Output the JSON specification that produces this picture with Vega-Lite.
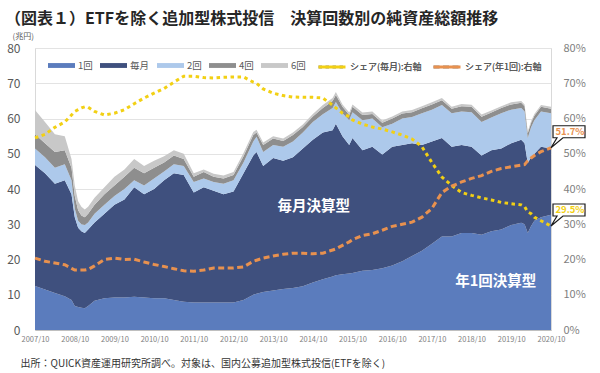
{
  "$schema": "https://vega.github.io/schema/vega-lite/v6.json",
  "width": 516,
  "height": 282,
  "autosize": "none",
  "padding": {"left": 35, "top": 48, "right": 49, "bottom": 43},
  "background": "white",
  "title": {
    "text": "（図表１）ETFを除く追加型株式投信　決算回数別の純資産総額推移",
    "anchor": "start",
    "frame": "group",
    "dx": -30,
    "offset": 5,
    "fontSize": 16,
    "fontWeight": "bold",
    "color": "#262626",
    "font": "Noto Sans CJK JP"
  },
  "config": {
    "font": "Noto Sans CJK JP",
    "view": {"stroke": "#d9d9d9"},
    "axisX": {"labelOverlap": false, "labelSeparation": 0}
  },
  "datasets": {
    "funds": [
      {"date": "2007/10/01", "1回": 12.5, "毎月": 34.3, "2回": 4.7, "4回": 4.0, "6回": 6.9, "シェア(毎月):右軸": 54.5, "シェア(年1回):右軸": 20.4},
      {"date": "2008/01/01", "1回": 11.5, "毎月": 33.0, "2回": 4.5, "4回": 4.0, "6回": 6.0, "シェア(毎月):右軸": 55.5, "シェア(年1回):右軸": 19.5},
      {"date": "2008/04/01", "1回": 10.5, "毎月": 31.0, "2回": 4.5, "4回": 4.5, "6回": 5.0, "シェア(毎月):右軸": 57.5, "シェア(年1回):右軸": 19.0},
      {"date": "2008/07/01", "1回": 9.6, "毎月": 32.9, "2回": 4.5, "4回": 4.0, "6回": 4.0, "シェア(毎月):右軸": 59.0, "シェア(年1回):右軸": 18.5},
      {"date": "2008/09/01", "1回": 8.5, "毎月": 30.0, "2回": 4.0, "4回": 3.5, "6回": 2.5, "シェア(毎月):右軸": 61.0, "シェア(年1回):右軸": 17.5},
      {"date": "2008/10/01", "1回": 6.8, "毎月": 25.2, "2回": 2.5, "4回": 3.5, "6回": 3.0, "シェア(毎月):右軸": 62.0, "シェア(年1回):右軸": 17.0},
      {"date": "2008/11/01", "1回": 6.5, "毎月": 22.5, "2回": 2.0, "4回": 3.0, "6回": 2.5, "シェア(毎月):右軸": 62.5, "シェア(年1回):右軸": 17.0},
      {"date": "2008/12/01", "1回": 6.3, "毎月": 21.7, "2回": 2.0, "4回": 2.5, "6回": 2.5, "シェア(毎月):右軸": 63.0, "シェア(年1回):右軸": 17.0},
      {"date": "2009/01/01", "1回": 6.2, "毎月": 21.3, "2回": 2.3, "4回": 2.2, "6回": 2.2, "シェア(毎月):右軸": 63.3, "シェア(年1回):右軸": 17.0},
      {"date": "2009/02/01", "1回": 6.8, "毎月": 21.7, "2回": 2.0, "4回": 2.5, "6回": 2.0, "シェア(毎月):右軸": 63.2, "シェア(年1回):右軸": 17.2},
      {"date": "2009/04/01", "1回": 8.3, "毎月": 22.2, "2回": 2.5, "4回": 2.5, "6回": 2.0, "シェア(毎月):右軸": 62.0, "シェア(年1回):右軸": 18.2},
      {"date": "2009/07/01", "1回": 9.0, "毎月": 24.0, "2回": 2.5, "4回": 3.0, "6回": 2.0, "シェア(毎月):右軸": 61.0, "シェア(年1回):右軸": 20.0},
      {"date": "2009/10/01", "1回": 9.2, "毎月": 26.3, "2回": 2.5, "4回": 3.0, "6回": 2.5, "シェア(毎月):右軸": 61.5, "シェア(年1回):右軸": 20.4},
      {"date": "2010/01/01", "1回": 9.2, "毎月": 27.8, "2回": 3.0, "4回": 3.5, "6回": 2.0, "シェア(毎月):右軸": 62.5, "シェア(年1回):右軸": 20.0},
      {"date": "2010/04/01", "1回": 9.4, "毎月": 31.1, "2回": 2.0, "4回": 3.5, "6回": 2.5, "シェア(毎月):右軸": 64.2, "シェア(年1回):右軸": 20.1},
      {"date": "2010/07/01", "1回": 9.2, "毎月": 29.3, "2回": 2.5, "4回": 3.5, "6回": 2.0, "シェア(毎月):右軸": 65.8, "シェア(年1回):右軸": 19.3},
      {"date": "2010/10/01", "1回": 9.0, "毎月": 31.0, "2回": 3.0, "4回": 3.0, "6回": 2.0, "シェア(毎月):右軸": 67.2, "シェア(年1回):右軸": 18.6},
      {"date": "2011/01/01", "1回": 9.0, "毎月": 33.5, "2回": 2.5, "4回": 2.5, "6回": 1.8, "シェア(毎月):右軸": 68.5, "シェア(年1回):右軸": 18.0},
      {"date": "2011/04/01", "1回": 8.5, "毎月": 36.0, "2回": 2.5, "4回": 2.5, "6回": 1.5, "シェア(毎月):右軸": 70.3, "シェア(年1回):右軸": 17.4},
      {"date": "2011/07/01", "1回": 8.0, "毎月": 36.0, "2回": 2.5, "4回": 2.0, "6回": 1.5, "シェア(毎月):右軸": 72.0, "シェア(年1回):右軸": 16.8},
      {"date": "2011/10/01", "1回": 7.8, "毎月": 31.2, "2回": 3.0, "4回": 1.5, "6回": 1.0, "シェア(毎月):右軸": 72.0, "シェア(年1回):右軸": 16.7},
      {"date": "2012/01/01", "1回": 7.8, "毎月": 32.7, "2回": 2.5, "4回": 1.8, "6回": 0.7, "シェア(毎月):右軸": 71.6, "シェア(年1回):右軸": 17.0},
      {"date": "2012/04/01", "1回": 7.8, "毎月": 31.7, "2回": 2.5, "4回": 1.5, "6回": 0.8, "シェア(毎月):右軸": 71.5, "シェア(年1回):右軸": 17.6},
      {"date": "2012/07/01", "1回": 7.8, "毎月": 30.7, "2回": 3.0, "4回": 1.5, "6回": 0.8, "シェア(毎月):右軸": 71.7, "シェア(年1回):右軸": 17.6},
      {"date": "2012/10/01", "1回": 7.8, "毎月": 31.5, "2回": 3.2, "4回": 1.5, "6回": 0.8, "シェア(毎月):右軸": 71.8, "シェア(年1回):右軸": 17.6},
      {"date": "2013/01/01", "1回": 8.5, "毎月": 36.0, "2回": 3.0, "4回": 1.8, "6回": 0.9, "シェア(毎月):右軸": 71.8, "シェア(年1回):右軸": 17.9},
      {"date": "2013/04/01", "1回": 10.0, "毎月": 39.5, "2回": 4.0, "4回": 1.8, "6回": 0.9, "シェア(毎月):右軸": 70.3, "シェア(年1回):右軸": 19.5},
      {"date": "2013/05/01", "1回": 10.3, "毎月": 40.2, "2回": 4.3, "4回": 1.2, "6回": 0.8, "シェア(毎月):右軸": 70.0, "シェア(年1回):右軸": 19.8},
      {"date": "2013/07/01", "1回": 10.8, "毎月": 35.7, "2回": 4.0, "4回": 2.0, "6回": 0.7, "シェア(毎月):右軸": 68.4, "シェア(年1回):右軸": 20.4},
      {"date": "2013/10/01", "1回": 11.2, "毎月": 37.6, "2回": 3.7, "4回": 1.8, "6回": 0.7, "シェア(毎月):右軸": 67.2, "シェア(年1回):右軸": 21.0},
      {"date": "2014/01/01", "1回": 11.6, "毎月": 36.4, "2回": 4.0, "4回": 1.6, "6回": 0.7, "シェア(毎月):右軸": 66.5, "シェア(年1回):右軸": 21.5},
      {"date": "2014/04/01", "1回": 11.9, "毎月": 37.1, "2回": 4.5, "4回": 1.8, "6回": 0.7, "シェア(毎月):右軸": 66.1, "シェア(年1回):右軸": 21.8},
      {"date": "2014/07/01", "1回": 12.4, "毎月": 39.1, "2回": 4.5, "4回": 1.6, "6回": 0.7, "シェア(毎月):右軸": 66.0, "シェア(年1回):右軸": 21.8},
      {"date": "2014/10/01", "1回": 13.5, "毎月": 40.5, "2回": 5.0, "4回": 1.6, "6回": 0.7, "シェア(毎月):右軸": 66.0, "シェア(年1回):右軸": 21.6},
      {"date": "2015/01/01", "1回": 14.4, "毎月": 41.6, "2回": 5.2, "4回": 1.8, "6回": 0.8, "シェア(毎月):右軸": 65.8, "シェア(年1回):右軸": 21.8},
      {"date": "2015/04/01", "1回": 15.2, "毎月": 41.5, "2回": 6.3, "4回": 2.0, "6回": 0.8, "シェア(毎月):右軸": 63.8, "シェア(年1回):右軸": 22.7},
      {"date": "2015/05/01", "1回": 15.5, "毎月": 43.0, "2回": 6.2, "4回": 2.0, "6回": 0.8, "シェア(毎月):右軸": 63.0, "シェア(年1回):右軸": 23.0},
      {"date": "2015/07/01", "1回": 15.8, "毎月": 39.2, "2回": 6.5, "4回": 1.8, "6回": 0.7, "シェア(毎月):右軸": 61.5, "シェア(年1回):右軸": 24.0},
      {"date": "2015/09/01", "1回": 16.0, "毎月": 36.5, "2回": 7.0, "4回": 1.5, "6回": 0.7, "シェア(毎月):右軸": 60.5, "シェア(年1回):右軸": 25.0},
      {"date": "2015/10/01", "1回": 16.2, "毎月": 38.3, "2回": 7.3, "4回": 1.5, "6回": 0.7, "シェア(毎月):右軸": 59.6, "シェア(年1回):右軸": 25.6},
      {"date": "2016/01/01", "1回": 16.8, "毎月": 34.2, "2回": 8.5, "4回": 1.5, "6回": 0.7, "シェア(毎月):右軸": 58.4, "シェア(年1回):右軸": 26.8},
      {"date": "2016/04/01", "1回": 17.0, "毎月": 35.0, "2回": 8.0, "4回": 1.3, "6回": 0.7, "シェア(毎月):右軸": 57.6, "シェア(年1回):右軸": 27.3},
      {"date": "2016/07/01", "1回": 17.5, "毎月": 32.3, "2回": 7.7, "4回": 1.3, "6回": 0.6, "シェア(毎月):右軸": 57.0, "シェア(年1回):右軸": 28.3},
      {"date": "2016/10/01", "1回": 18.3, "毎月": 33.7, "2回": 6.5, "4回": 1.5, "6回": 0.6, "シェア(毎月):右軸": 56.2, "シェア(年1回):右軸": 29.4},
      {"date": "2017/01/01", "1回": 19.5, "毎月": 33.0, "2回": 7.5, "4回": 1.4, "6回": 0.6, "シェア(毎月):右軸": 55.3, "シェア(年1回):右軸": 30.0},
      {"date": "2017/04/01", "1回": 21.0, "毎月": 32.0, "2回": 7.4, "4回": 1.4, "6回": 0.6, "シェア(毎月):右軸": 54.2, "シェア(年1回):右軸": 30.6},
      {"date": "2017/07/01", "1回": 22.5, "毎月": 30.0, "2回": 9.0, "4回": 1.4, "6回": 0.6, "シェア(毎月):右軸": 52.0, "シェア(年1回):右軸": 32.0},
      {"date": "2017/10/01", "1回": 24.5, "毎月": 29.0, "2回": 9.0, "4回": 1.5, "6回": 0.6, "シェア(毎月):右軸": 47.5, "シェア(年1回):右軸": 34.5},
      {"date": "2018/01/01", "1回": 26.5, "毎月": 28.0, "2回": 9.3, "4回": 1.4, "6回": 0.6, "シェア(毎月):右軸": 43.4, "シェア(年1回):右軸": 39.0},
      {"date": "2018/04/01", "1回": 26.5, "毎月": 25.5, "2回": 9.5, "4回": 1.3, "6回": 0.5, "シェア(毎月):右軸": 41.0, "シェア(年1回):右軸": 40.8},
      {"date": "2018/07/01", "1回": 27.5, "毎月": 25.0, "2回": 9.5, "4回": 1.5, "6回": 0.6, "シェア(毎月):右軸": 39.0, "シェア(年1回):右軸": 42.0},
      {"date": "2018/10/01", "1回": 27.5, "毎月": 24.5, "2回": 9.8, "4回": 1.5, "6回": 0.6, "シェア(毎月):右軸": 38.2, "シェア(年1回):右軸": 43.0},
      {"date": "2019/01/01", "1回": 27.0, "毎月": 22.5, "2回": 9.5, "4回": 1.5, "6回": 0.6, "シェア(毎月):右軸": 37.5, "シェア(年1回):右軸": 43.8},
      {"date": "2019/04/01", "1回": 28.0, "毎月": 23.0, "2回": 9.3, "4回": 1.4, "6回": 0.6, "シェア(毎月):右軸": 36.9, "シェア(年1回):右軸": 45.0},
      {"date": "2019/07/01", "1回": 28.5, "毎月": 23.0, "2回": 10.0, "4回": 1.5, "6回": 0.5, "シェア(毎月):右軸": 36.2, "シェア(年1回):右軸": 45.8},
      {"date": "2019/10/01", "1回": 29.8, "毎月": 23.2, "2回": 9.5, "4回": 1.5, "6回": 0.6, "シェア(毎月):右軸": 35.8, "シェア(年1回):右軸": 46.3},
      {"date": "2020/01/01", "1回": 30.4, "毎月": 23.6, "2回": 9.0, "4回": 1.5, "6回": 0.5, "シェア(毎月):右軸": 35.5, "シェア(年1回):右軸": 46.8},
      {"date": "2020/02/01", "1回": 30.0, "毎月": 23.0, "2回": 9.0, "4回": 1.5, "6回": 0.5, "シェア(毎月):右軸": 35.0, "シェア(年1回):右軸": 46.9},
      {"date": "2020/03/01", "1回": 27.5, "毎月": 19.9, "2回": 7.1, "4回": 1.3, "6回": 0.5, "シェア(毎月):右軸": 33.5, "シェア(年1回):右軸": 48.0},
      {"date": "2020/04/01", "1回": 29.5, "毎月": 19.5, "2回": 8.5, "4回": 1.3, "6回": 0.5, "シェア(毎月):右軸": 33.0, "シェア(年1回):右軸": 48.8},
      {"date": "2020/05/01", "1回": 31.0, "毎月": 19.0, "2回": 9.5, "4回": 1.3, "6回": 0.5, "シェア(毎月):右軸": 32.0, "シェア(年1回):右軸": 49.5},
      {"date": "2020/07/01", "1回": 32.0, "毎月": 20.0, "2回": 10.0, "4回": 1.3, "6回": 0.5, "シェア(毎月):右軸": 31.0, "シェア(年1回):右軸": 50.6},
      {"date": "2020/10/01", "1回": 32.7, "毎月": 18.8, "2回": 10.0, "4回": 1.3, "6回": 0.5, "シェア(毎月):右軸": 29.5, "シェア(年1回):右軸": 51.7}
    ],
    "seriesOrder": [
      {"series": "1回", "rank": 1},
      {"series": "毎月", "rank": 2},
      {"series": "2回", "rank": 3},
      {"series": "4回", "rank": 4},
      {"series": "6回", "rank": 5}
    ],
    "labels": [
      {"date": "2014/10/10", "value": 35, "text": "毎月決算型"},
      {"date": "2019/05/12", "value": 13.6, "text": "年1回決算型"}
    ],
    "callouts": [
      {"date": "2020/10/01", "share": 51.7, "label": "51.7%"},
      {"date": "2020/10/01", "share": 29.5, "label": "29.5%"}
    ]
  },
  "layer": [
    {
      "layer": [
        {
          "data": {"name": "funds"},
          "transform": [
            {"fold": ["1回", "毎月", "2回", "4回", "6回"], "as": ["series", "value"]},
            {"lookup": "series", "from": {"data": {"name": "seriesOrder"}, "key": "series", "fields": ["rank"]}}
          ],
          "mark": {"type": "area", "interpolate": "linear", "opacity": 1},
          "encoding": {
            "x": {
              "field": "date",
              "type": "temporal",
              "scale": {"domain": [{"year": 2007, "month": 10, "date": 1}, {"year": 2020, "month": 10, "date": 1}], "nice": false},
              "axis": {
                "values": [
                  {"year": 2007, "month": 10, "date": 1}, {"year": 2008, "month": 10, "date": 1},
                  {"year": 2009, "month": 10, "date": 1}, {"year": 2010, "month": 10, "date": 1},
                  {"year": 2011, "month": 10, "date": 1}, {"year": 2012, "month": 10, "date": 1},
                  {"year": 2013, "month": 10, "date": 1}, {"year": 2014, "month": 10, "date": 1},
                  {"year": 2015, "month": 10, "date": 1}, {"year": 2016, "month": 10, "date": 1},
                  {"year": 2017, "month": 10, "date": 1}, {"year": 2018, "month": 10, "date": 1},
                  {"year": 2019, "month": 10, "date": 1}, {"year": 2020, "month": 10, "date": 1}
                ],
                "tickCount": 30,
                "format": "%Y/%m",
                "labelFontSize": 7.5,
                "labelColor": "#7f7f7f",
                "labelPadding": 5,
                "labelOverlap": false,
                "labelSeparation": 0,
                "labelFlush": false,
                "ticks": false,
                "grid": false,
                "domainColor": "#bfbfbf",
                "title": "出所：QUICK資産運用研究所調べ。対象は、国内公募追加型株式投信(ETFを除く)",
                "titleX": -15,
                "titleY": 33,
                "titleAnchor": "start",
                "titleAlign": "left",
                "titleBaseline": "middle",
                "titleFontSize": 10,
                "titleFontWeight": "normal",
                "titleColor": "#333333"
              }
            },
            "y": {
              "field": "value",
              "type": "quantitative",
              "stack": "zero",
              "scale": {"domain": [0, 80], "nice": false},
              "axis": {
                "values": [0, 10, 20, 30, 40, 50, 60, 70, 80],
                "tickCount": 20,
                "grid": true,
                "gridColor": "#e3e3e3",
                "domain": false,
                "ticks": false,
                "labelFontSize": 12,
                "labelColor": "#595959",
                "labelPadding": 15,
                "title": "(兆円)",
                "titleAngle": 0,
                "titleX": -23,
                "titleY": -12,
                "titleAlign": "left",
                "titleBaseline": "middle",
                "titleFontSize": 8,
                "titleFontWeight": "normal",
                "titleColor": "#595959"
              }
            },
            "color": {
              "field": "series",
              "type": "nominal",
              "scale": {
                "domain": ["1回", "毎月", "2回", "4回", "6回"],
                "range": ["#5b7cbd", "#3f507e", "#adc9eb", "#8e8e8e", "#c8c8c8"]
              },
              "legend": {
                "orient": "none",
                "legendX": 13,
                "legendY": 4,
                "direction": "horizontal",
                "title": null,
                "padding": 0,
                "symbolType": "M-1,-0.18L1,-0.18L1,0.18L-1,0.18Z",
                "symbolSize": 729,
                "symbolStrokeWidth": 0,
                "symbolOpacity": 1,
                "labelFontSize": 9.5,
                "labelColor": "#595959",
                "labelOffset": 3,
                "columnPadding": 7
              }
            },
            "order": {"field": "rank", "type": "quantitative", "sort": "ascending"}
          }
        },
        {
          "data": {"name": "labels"},
          "mark": {"type": "text", "color": "white", "fontWeight": "bold", "fontSize": 14.5, "align": "center", "baseline": "middle"},
          "encoding": {
            "x": {"field": "date", "type": "temporal"},
            "y": {"field": "value", "type": "quantitative"},
            "text": {"field": "text"}
          }
        }
      ]
    },
    {
      "layer": [
        {
          "data": {"name": "funds"},
          "transform": [
            {"fold": ["シェア(毎月):右軸", "シェア(年1回):右軸"], "as": ["share_series", "share"]}
          ],
          "mark": {"type": "line", "strokeWidth": 3, "strokeCap": "butt"},
          "encoding": {
            "x": {"field": "date", "type": "temporal"},
            "y": {
              "field": "share",
              "type": "quantitative",
              "scale": {"domain": [0, 80], "nice": false},
              "axis": {
                "orient": "right",
                "values": [0, 10, 20, 30, 40, 50, 60, 70, 80],
                "tickCount": 20,
                "labelExpr": "datum.value + '%'",
                "grid": false,
                "domain": false,
                "ticks": false,
                "labelFontSize": 11,
                "labelColor": "#7f7f7f",
                "labelPadding": 12,
                "title": null
              }
            },
            "color": {
              "field": "share_series",
              "type": "nominal",
              "scale": {"domain": ["シェア(毎月):右軸", "シェア(年1回):右軸"], "range": ["#f2d014", "#e8914f"]},
              "legend": {
                "orient": "none",
                "legendX": 282,
                "legendY": 4,
                "direction": "horizontal",
                "title": null,
                "padding": 0,
                "symbolSize": 729,
                "symbolStrokeWidth": 3,
                "labelFontSize": 9,
                "labelColor": "#595959",
                "labelOffset": 3,
                "columnPadding": 5
              }
            },
            "strokeDash": {
              "field": "share_series",
              "type": "nominal",
              "scale": {"domain": ["シェア(毎月):右軸", "シェア(年1回):右軸"], "range": [[3.5, 3.5], [6, 3.5]]},
              "legend": {
                "orient": "none",
                "legendX": 282,
                "legendY": 4,
                "direction": "horizontal",
                "title": null,
                "padding": 0,
                "symbolSize": 729,
                "symbolStrokeWidth": 3,
                "labelFontSize": 9,
                "labelColor": "#595959",
                "labelOffset": 3,
                "columnPadding": 5
              }
            }
          }
        },
        {
          "data": {"name": "callouts"},
          "mark": {
            "type": "point",
            "shape": "M0,0L0.375,-0.625L0.125,-0.625L0.125,-1.375L2.125,-1.375L2.125,-0.625L0.75,-0.625Z",
            "size": 1024,
            "filled": true,
            "fill": "white",
            "stroke": "#1a1a1a",
            "strokeWidth": 1.2,
            "opacity": 1
          },
          "encoding": {
            "x": {"field": "date", "type": "temporal"},
            "y": {"field": "share", "type": "quantitative"}
          }
        },
        {
          "data": {"name": "callouts"},
          "mark": {"type": "text", "dx": 19, "dy": -16, "fontWeight": "bold", "fontSize": 9.5, "align": "center", "baseline": "middle"},
          "encoding": {
            "x": {"field": "date", "type": "temporal"},
            "y": {"field": "share", "type": "quantitative"},
            "text": {"field": "label"},
            "color": {"condition": {"test": "datum.share > 40", "value": "#e8914f"}, "value": "#f2d014"}
          }
        }
      ]
    }
  ],
  "resolve": {"scale": {"y": "independent", "color": "independent"}}
}
